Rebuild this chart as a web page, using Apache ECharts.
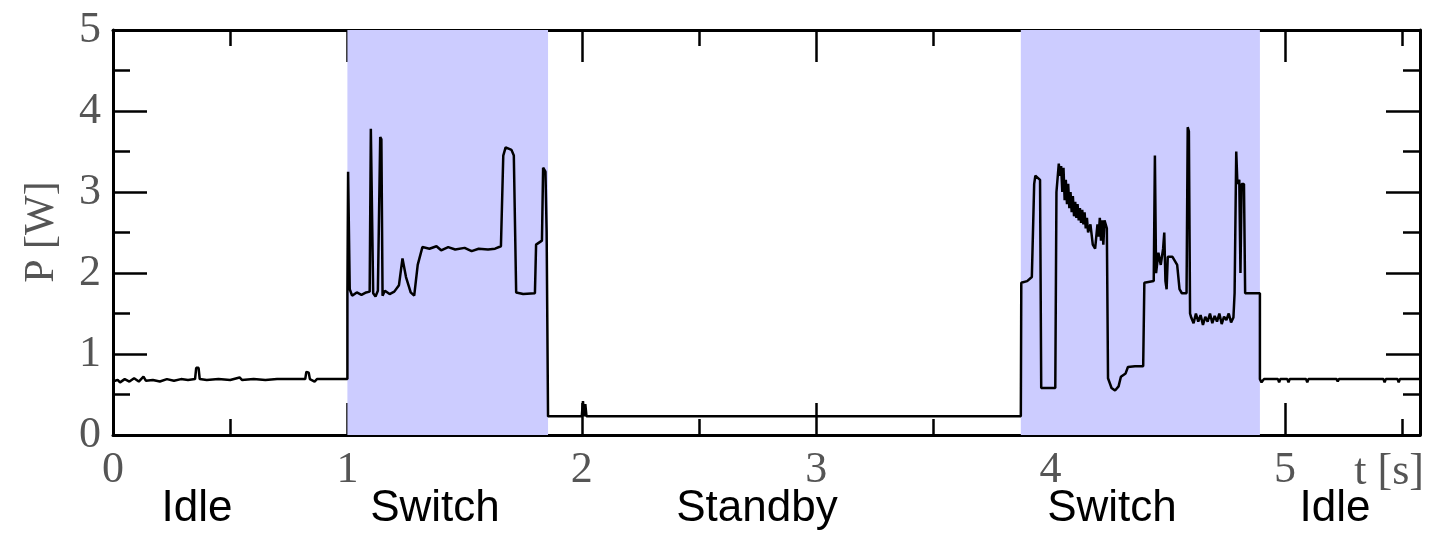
<!DOCTYPE html>
<html>
<head>
<meta charset="utf-8">
<script src="https://cdn.jsdelivr.net/npm/echarts@6/dist/echarts.min.js"></script>
<style>
  html, body { margin: 0; padding: 0; background: #fff; }
  #chart { width: 1431px; height: 534px; }
</style>
</head>
<body>
<div id="chart"></div>
<script>
// time axis range (s) and power range (W)
const tMax = 5.576
const pMax = 5

// power trace, one array per phase: [t (s), P (W)]
const idleStart = [
  [0, 0.66], [0.02, 0.68], [0.03, 0.65], [0.05, 0.69], [0.07, 0.66], [0.09, 0.70],
  [0.11, 0.66], [0.13, 0.72], [0.14, 0.67], [0.17, 0.68], [0.2, 0.66], [0.23, 0.69],
  [0.26, 0.67], [0.29, 0.69], [0.32, 0.68], [0.35, 0.69], [0.355, 0.83], [0.365, 0.83],
  [0.37, 0.69], [0.4, 0.68], [0.45, 0.69], [0.5, 0.68], [0.54, 0.71], [0.55, 0.68],
  [0.6, 0.69], [0.65, 0.68], [0.7, 0.69], [0.75, 0.69], [0.82, 0.69], [0.825, 0.78],
  [0.835, 0.77], [0.84, 0.69], [0.86, 0.66], [0.87, 0.69], [0.9, 0.69], [1.0, 0.69]
]
const switchOne = [
  [1.0, 1.75], [1.003, 3.25], [1.01, 1.8], [1.02, 1.72], [1.04, 1.76], [1.06, 1.73],
  [1.08, 1.76], [1.095, 1.77], [1.1, 3.78], [1.105, 3.78], [1.11, 1.75], [1.12, 1.71],
  [1.13, 1.78], [1.14, 3.68], [1.145, 3.65], [1.15, 1.72], [1.16, 1.78], [1.18, 1.74],
  [1.2, 1.77], [1.22, 1.85], [1.235, 2.18], [1.25, 1.95], [1.27, 1.76], [1.285, 1.72],
  [1.3, 2.1], [1.32, 2.32], [1.35, 2.3], [1.38, 2.33], [1.4, 2.28], [1.43, 2.32],
  [1.46, 2.29], [1.5, 2.31], [1.53, 2.27], [1.56, 2.3], [1.6, 2.29], [1.63, 2.3],
  [1.655, 2.33], [1.665, 3.45], [1.675, 3.55], [1.7, 3.52], [1.71, 3.45], [1.72, 1.76],
  [1.75, 1.74], [1.8, 1.75], [1.805, 2.35], [1.83, 2.4], [1.835, 3.3], [1.845, 3.25],
  [1.85, 2.5], [1.856, 0.23]
]
const standby = [
  [1.856, 0.23], [2.0, 0.23], [2.005, 0.42], [2.01, 0.23], [2.015, 0.38], [2.02, 0.23],
  [3.873, 0.23]
]
const switchTwo = [
  [3.875, 1.88], [3.9, 1.9], [3.92, 1.95], [3.93, 3.1], [3.935, 3.2], [3.955, 3.15],
  [3.96, 0.58], [4.02, 0.58], [4.025, 3.0], [4.035, 3.35], [4.04, 3.2], [4.045, 3.32],
  [4.05, 3.0], [4.055, 3.3], [4.06, 2.9], [4.065, 3.15], [4.07, 2.85], [4.075, 3.1],
  [4.08, 2.8], [4.085, 3.0], [4.09, 2.75], [4.095, 2.95], [4.1, 2.7], [4.105, 2.88],
  [4.11, 2.68], [4.115, 2.85], [4.12, 2.65], [4.125, 2.8], [4.13, 2.62], [4.135, 2.78],
  [4.14, 2.6], [4.145, 2.75], [4.15, 2.55], [4.155, 2.68], [4.16, 2.5], [4.17, 2.6],
  [4.18, 2.35], [4.19, 2.3], [4.2, 2.6], [4.205, 2.45], [4.21, 2.68], [4.215, 2.4],
  [4.22, 2.65], [4.225, 2.35], [4.23, 2.65], [4.24, 2.55], [4.245, 0.7], [4.26, 0.58],
  [4.275, 0.55], [4.29, 0.6], [4.3, 0.72], [4.32, 0.76], [4.33, 0.84], [4.36, 0.85],
  [4.395, 0.85], [4.4, 1.88], [4.44, 1.9], [4.445, 3.45], [4.45, 2.0], [4.46, 2.25],
  [4.47, 2.1], [4.48, 2.3], [4.485, 2.5], [4.49, 1.9], [4.495, 1.8], [4.5, 2.2],
  [4.52, 2.2], [4.53, 2.15], [4.54, 2.1], [4.55, 1.8], [4.56, 1.75], [4.58, 1.75],
  [4.585, 3.8], [4.59, 3.75], [4.595, 1.5], [4.6, 1.45], [4.61, 1.38], [4.62, 1.5],
  [4.63, 1.4], [4.64, 1.48], [4.65, 1.36], [4.66, 1.46], [4.67, 1.4], [4.68, 1.5],
  [4.69, 1.38], [4.7, 1.47], [4.71, 1.4], [4.72, 1.5], [4.73, 1.37], [4.74, 1.46],
  [4.75, 1.42], [4.76, 1.5], [4.77, 1.39], [4.78, 1.45], [4.785, 1.75], [4.792, 3.5],
  [4.797, 3.1], [4.805, 3.15], [4.81, 2.0], [4.815, 3.1], [4.825, 3.1], [4.83, 1.75],
  [4.893, 1.75]
]
const idleEnd = [
  [4.893, 0.69], [4.9, 0.65], [4.91, 0.69], [4.97, 0.69], [4.975, 0.65], [4.98, 0.69],
  [5.01, 0.69], [5.015, 0.65], [5.02, 0.69], [5.09, 0.69], [5.095, 0.65], [5.1, 0.69],
  [5.22, 0.69], [5.225, 0.66], [5.23, 0.69], [5.42, 0.69], [5.425, 0.65], [5.43, 0.69],
  [5.48, 0.69], [5.485, 0.65], [5.49, 0.69], [5.576, 0.69]
]

// shaded "Switch" intervals (s)
const switchSpans = [[1.0, 1.856], [3.873, 4.893]]

// phase names under the axis
const phaseNames = ['Idle', 'Switch', 'Standby', 'Switch', 'Idle']

const trace = idleStart.concat(switchOne, standby, switchTwo, idleEnd)

const serif = 'Liberation Serif, Times New Roman, serif'
const sans = 'Liberation Sans, Arial, sans-serif'

function axisBase(pos, step, len, withLine) {
  return {
    type: 'value',
    position: pos,
    min: 0,
    interval: step,
    axisLine: { show: withLine, onZero: false, lineStyle: { color: '#000', width: 3 } },
    axisTick: { show: true, inside: true, length: len, lineStyle: { color: '#000', width: 2.5 } },
    axisLabel: { show: false },
    splitLine: { show: false }
  }
}

const xBottom = axisBase('bottom', 1, 32, true)
xBottom.axisLabel = {
  show: true,
  showMaxLabel: false,
  margin: 13,
  fontFamily: serif,
  fontSize: 44,
  color: '#555',
  formatter: v => (Number.isInteger(v) ? String(v) : '')
}
const yLeft = axisBase('left', 1, 34, true)
yLeft.axisLabel = {
  show: true,
  margin: 12,
  fontFamily: serif,
  fontSize: 44,
  color: '#555'
}

const xAxes = [
  xBottom,
  axisBase('bottom', 0.5, 16, false),
  axisBase('top', 1, 32, true),
  axisBase('top', 0.5, 16, false)
]
xAxes.forEach(a => { a.max = tMax })
const yAxes = [
  yLeft,
  axisBase('left', 0.5, 17, false),
  axisBase('right', 1, 34, true),
  axisBase('right', 0.5, 17, false)
]
yAxes.forEach(a => { a.max = pMax })

const labelX = [197, 435, 757, 1112, 1335]

const option = {
  animation: false,
  backgroundColor: '#fff',
  grid: { left: 113, right: 11, top: 30, bottom: 99 },
  xAxis: xAxes,
  yAxis: yAxes,
  series: [{
    type: 'line',
    xAxisIndex: 0,
    yAxisIndex: 0,
    data: trace,
    showSymbol: false,
    symbol: 'none',
    lineStyle: { color: '#000', width: 2.5 },
    markArea: {
      silent: true,
      itemStyle: { color: '#ccccff' },
      data: switchSpans.map(s => [{ xAxis: s[0] }, { xAxis: s[1] }])
    }
  }],
  graphic: [
    {
      type: 'text',
      x: 42,
      y: 232,
      rotation: Math.PI / 2,
      style: {
        text: 'P [W]',
        font: '42px ' + serif,
        fill: '#555',
        textAlign: 'center',
        textVerticalAlign: 'middle'
      }
    },
    {
      type: 'text',
      x: 1424,
      y: 472,
      style: {
        text: 't [s]',
        font: '44px ' + serif,
        fill: '#555',
        textAlign: 'right',
        textVerticalAlign: 'middle'
      }
    }
  ].concat(phaseNames.map((n, i) => ({
    type: 'text',
    x: labelX[i],
    y: 509,
    style: {
      text: n,
      font: '44px ' + sans,
      fill: '#000',
      textAlign: 'center',
      textVerticalAlign: 'middle'
    }
  })))
}

const chart = echarts.init(document.getElementById('chart'))
chart.setOption(option)
</script>
</body>
</html>
